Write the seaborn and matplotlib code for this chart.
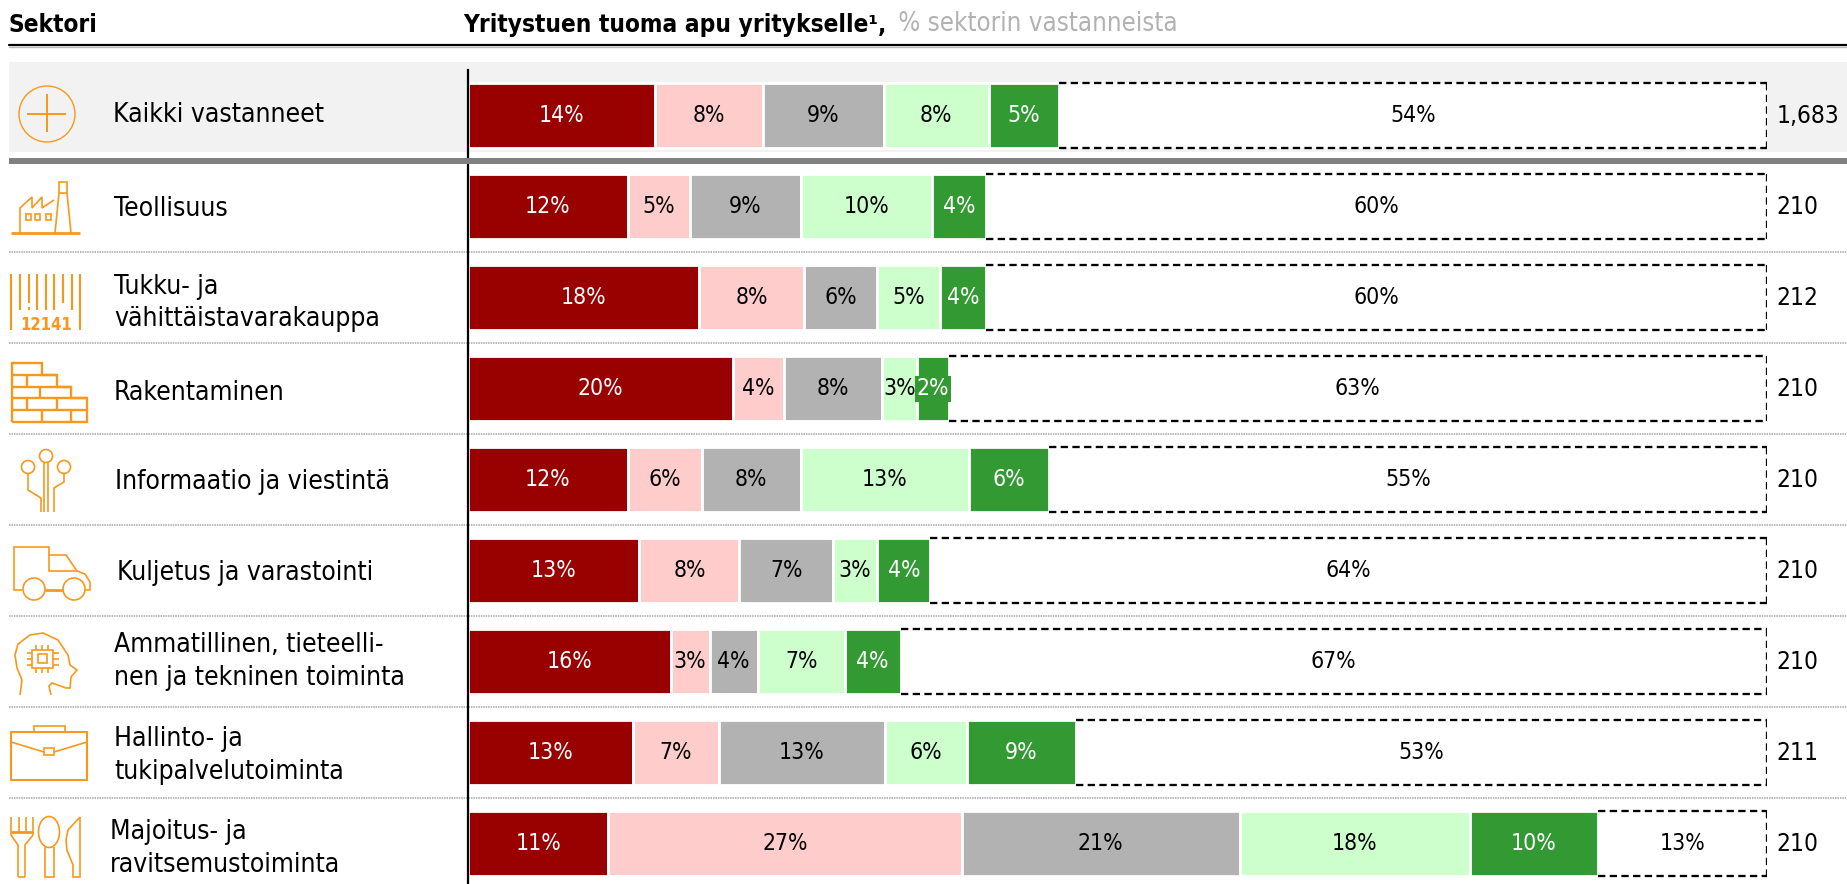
import matplotlib
matplotlib.use("Agg")
import matplotlib.pyplot as plt
from matplotlib.patches import Circle, Ellipse, Rectangle
import seaborn as sns
import numpy as np

# ---------- data ----------
sectors = ["Kaikki vastanneet", "Teollisuus", "Tukku- ja\nvähittäistavarakauppa", "Rakentaminen",
           "Informaatio ja viestintä", "Kuljetus ja varastointi",
           "Ammatillinen, tieteelli-\nnen ja tekninen toiminta", "Hallinto- ja\ntukipalvelutoiminta",
           "Majoitus- ja\nravitsemustoiminta"]
much_harm   = [14.4, 12.3, 17.8, 20.4, 12.3, 13.2, 15.6, 12.7, 10.8]
some_harm   = [8.3, 4.8, 8.1, 3.9, 5.7, 7.7, 3.0, 6.6, 27.2]
neutral     = [9.3, 8.5, 5.6, 7.6, 7.6, 7.2, 3.7, 12.8, 21.4]
some_help   = [8.1, 10.1, 4.8, 2.7, 13.0, 3.4, 6.7, 6.3, 17.7]
much_help   = [5.4, 4.2, 3.6, 2.4, 6.1, 4.1, 4.3, 8.4, 9.9]
no_support  = [54.5, 60.1, 60.1, 63.0, 55.3, 64.4, 66.7, 53.2, 13.0]
shown_labels = [[14, 8, 9, 8, 5, 54], [12, 5, 9, 10, 4, 60], [18, 8, 6, 5, 4, 60], [20, 4, 8, 3, 2, 63],
                [12, 6, 8, 13, 6, 55], [13, 8, 7, 3, 4, 64], [16, 3, 4, 7, 4, 67], [13, 7, 13, 6, 9, 53],
                [11, 27, 21, 18, 10, 13]]
respondents = ["1,683", "210", "212", "210", "210", "210", "210", "211", "210"]
series = [much_harm, some_harm, neutral, some_help, much_help, no_support]
colors = ["#990000", "#FFCCCC", "#B2B2B2", "#CCFFCC", "#339933", "#FFFFFF"]
text_colors = ["white", "black", "black", "black", "white", "black"]

# ---------- style ----------
sns.set_theme(style="white")
plt.rcParams["font.family"] = ["DejaVu Sans"]
FONT = dict(family="DejaVu Sans", stretch="condensed")
FS_VAL = 16.5
FS_N = 17.6
FS_LAB = 19
FS_HEAD = 17.5
FS_SUB = 18.5
ORANGE = "#F7981D"
W, H = 1847, 884
fig = plt.figure(figsize=(W / 100, H / 100), dpi=100, facecolor="white")

def px_axes(x0, y0, x1, y1, z):
    return fig.add_axes([x0 / W, 1 - y1 / H, (x1 - x0) / W, (y1 - y0) / H], zorder=z)

# underlay in pixel space
bg = px_axes(0, 0, W, H, 0)
bg.set_xlim(0, W); bg.set_ylim(H, 0); bg.axis("off")
bg.add_patch(Rectangle((9, 62), W - 9, 90, fc="#F2F2F2", ec="none"))
bg.plot([9, W], [46.5, 46.5], color="#BBBBBB", lw=1)
bg.plot([9, W], [45, 45], color="black", lw=1.6)
ROW0, PITCH = 115.5, 91
for k in range(2, 9):
    y = ROW0 + PITCH * k - 45.5
    bg.plot([9, W], [y, y], color="#A6A6A6", lw=1.1, ls=(0, (1, 0.6)))

# bars
ax = px_axes(468, 70, 1767, H, 1)
ax.patch.set_alpha(0)
lefts = np.zeros(len(sectors))
for vals, col in zip(series, colors):
    is_last = col == "#FFFFFF"
    sns.barplot(x=vals, y=sectors, order=sectors, left=lefts, orient="h", color=col, saturation=1,
                width=0.705, errorbar=None, edgecolor="none" if is_last else "white",
                linewidth=0 if is_last else 2, ax=ax)
    if is_last:
        dash = (0, (3.2, 1.9))
        for i, lf in enumerate(lefts):
            end = lf + vals[i]
            ax.plot([lf, end], [i - .357, i - .357], color="black", lw=1.65, ls=dash, zorder=4)
            ax.plot([lf, end], [i + .357, i + .357], color="black", lw=1.65, ls=dash, zorder=4)
            ax.plot([end, end], [i - .357, i + .357], color="black", lw=1.65, ls=dash, zorder=4)
    lefts = lefts + np.array(vals)
ax.set_xlim(0, 100)
ax.set_ylim((H - ROW0) / PITCH, (70 - ROW0) / PITCH)
ax.set_xticks([]); ax.set_yticks([])
ax.set_xlabel(""); ax.set_ylabel("")
for s in ["top", "right", "bottom"]:
    ax.spines[s].set_visible(False)
ax.spines["left"].set_color("black"); ax.spines["left"].set_linewidth(1.6)
ax.spines["left"].set_zorder(6)

# value labels
for i in range(len(sectors)):
    start = 0.0
    for j, vals in enumerate(series):
        v = vals[i]
        box = None
        if shown_labels[i][j] == 2:
            box = dict(boxstyle="square,pad=0.08", fc=colors[j], ec="none")
        ax.text(start + v / 2, i + 0.005, f"{shown_labels[i][j]}%", ha="center", va="center",
                color=text_colors[j], fontsize=FS_VAL, bbox=box, zorder=5, **FONT)
        start += v
    ax.text(100.72, i + 0.005, respondents[i], ha="left", va="center", color="black",
            fontsize=FS_N, clip_on=False, zorder=5, **FONT)

# overlay in pixel space
top = px_axes(0, 0, W, H, 2)
top.patch.set_alpha(0)
top.set_xlim(0, W); top.set_ylim(H, 0); top.axis("off")
top.add_patch(Rectangle((9, 158), W - 9, 6, fc="#808080", ec="none"))

top.text(9, 25, "Sektori", fontsize=FS_HEAD, fontweight="bold", va="center", ha="left", color="black", **FONT)
t2 = top.text(463, 25, "Yritystuen tuoma apu yritykselle¹,", fontsize=FS_HEAD, fontweight="bold", va="center",
              ha="left", color="black", **FONT)
top.annotate(" % sektorin vastanneista", xy=(1, 0), xycoords=t2, xytext=(3.5, 0), textcoords="offset points",
             va="bottom", ha="left", fontsize=FS_SUB, color="#B2B2B2", **FONT)

label_x = [113, 114, 114, 114, 115, 117, 114, 114, 110]
label_dy = [0, 3, 5.5, 4.5, 2.5, 2.5, 0, 3, 5]
for i, (s, x, dy) in enumerate(zip(sectors, label_x, label_dy)):
    top.text(x, ROW0 + PITCH * i + dy, s, fontsize=FS_LAB, va="center", ha="left", color="black",
             linespacing=1.32, **FONT)

# icons
def ln(xs, ys, lw=1.2):
    top.plot(xs, ys, color=ORANGE, lw=lw, solid_capstyle="butt", solid_joinstyle="miter")

def circ(x, y, r, lw=1.2):
    top.add_patch(Circle((x, y), r, fc="none", ec=ORANGE, lw=lw))

def rect(x0, y0, x1, y1, lw=1.2):
    top.add_patch(Rectangle((x0, y0), x1 - x0, y1 - y0, fc="none", ec=ORANGE, lw=lw))

# plus in a circle
circ(47, 114, 28, 1.0)
ln([27, 66], [114, 114], 1.4); ln([47, 47], [94, 132], 1.4)
# factory
ln([11, 80], [233, 233], 2)
ln([55, 59, 59, 67, 67, 71], [233, 193, 182, 182, 193, 233]); ln([59, 67], [193, 193])
ln([20, 20, 32, 32, 42, 42, 54], [233, 208, 197, 208, 197, 208, 200])
for x0, x1 in [(26, 31), (35, 40), (46, 51)]:
    rect(x0, 214, x1, 220)
# barcode
for x, y1 in zip([11, 20, 29, 37, 46, 54, 63, 72, 80], [330, 310, 303, 310, 310, 310, 303, 310, 330]):
    ln([x, x], [274, y1], 1.5)
ln([29, 29], [307, 310], 1.5); ln([72, 72], [307, 310], 1.5)
top.text(46, 325, "12141", color=ORANGE, fontsize=12, fontweight="bold", ha="center", va="center", **FONT)
# bricks
ln([12, 12, 42, 42, 57, 57, 71, 71, 87, 87, 12], [422, 363, 363, 375, 375, 387, 387, 398, 398, 422, 422], 1.7)
for x0, x1, y in [(12, 57, 375), (12, 71, 387), (12, 87, 398), (12, 87, 410)]:
    ln([x0, x1], [y, y], 1.7)
for x, y0, y1 in [(27, 375, 387), (40, 387, 398), (27, 398, 410), (57, 398, 410), (42, 410, 422), (71, 410, 422)]:
    ln([x, x], [y0, y1], 1.7)
# circuit
for x, y in [(28, 467), (46, 456), (64, 467)]:
    circ(x, y, 6.5)
ln([44, 44], [462, 512]); ln([48, 48], [462, 512])
ln([28, 28, 41, 41], [473, 490, 498, 512]); ln([64, 64, 54, 54], [473, 482, 488, 512])
# truck
ln([22, 14, 14, 49, 49, 66, 77, 85, 90, 90, 85], [590, 590, 547, 547, 555, 555, 571, 574, 582, 590, 590])
ln([49, 49, 77], [555, 571, 571]); ln([45, 63], [590, 590], 2)
circ(34, 589, 11); circ(74, 589, 11)
# head with chip
ln([20, 22, 17, 15, 18, 30, 43, 58, 68, 70, 77, 71, 70, 66, 52, 49, 51],
   [695, 680, 668, 655, 644, 635, 633, 640, 655, 665, 670, 677, 688, 688, 683, 686, 695])
rect(32, 650, 53, 668); rect(38, 654, 47, 663)
for y in [653, 659, 665]:
    ln([27, 32], [y, y]); ln([53, 59], [y, y])
for x in [36, 42, 48]:
    ln([x, x], [645, 650]); ln([x, x], [668, 673])
# briefcase
rect(11, 732, 87, 780, 1.5); rect(34, 726, 65, 732)
ln([11, 44], [742, 752]); ln([54, 87], [752, 742]); rect(44, 748, 54, 755)
# cutlery
ln([18, 18, 11, 11], [877, 845, 835, 817]); ln([25, 25, 33, 33], [877, 845, 835, 817])
ln([18, 25], [877, 877]); ln([11, 33], [832, 832], 2)
for x in [18.5, 25.5]:
    ln([x, x], [817, 832])
top.add_patch(Ellipse((49, 832), 21, 31, fc="none", ec=ORANGE, lw=1.2))
ln([45, 45, 54, 54], [847, 877, 877, 847])
ln([80, 80, 73, 73, 67, 66, 68, 80], [817, 877, 877, 865, 850, 840, 830, 817])

fig.savefig("out.png", dpi=100)
